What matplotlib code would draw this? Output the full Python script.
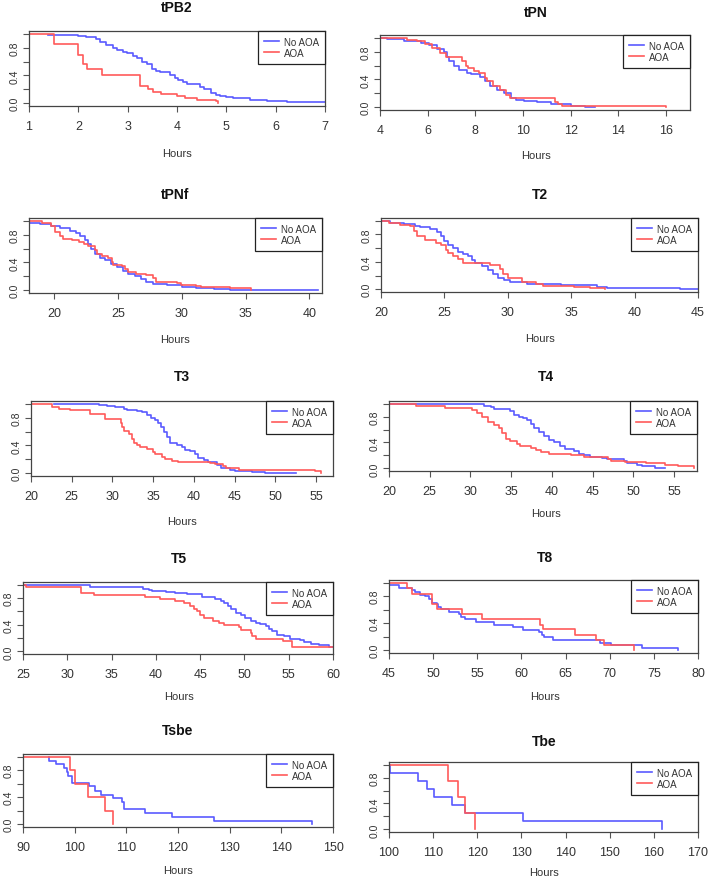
import matplotlib
matplotlib.use("Agg")
import matplotlib.pyplot as plt
from matplotlib.lines import Line2D

plt.rcParams['font.family'] = ['Liberation Sans', 'DejaVu Sans']

BLUE = '#5a5aff'
RED = '#ff5a5a'

# ---------------- data (time in hours, survival fraction) ----------------
titles = ["tPB2", "tPN", "tPNf", "T2", "T3", "T4", "T5", "T8", "Tsbe", "Tbe"]
series_labels = ["No AOA", "AOA"]

tpb2_no_t = [1.39, 2.0, 2.15, 2.24, 2.35, 2.44, 2.57, 2.7, 2.78, 2.9, 2.98, 3.1, 3.18, 3.3, 3.39, 3.49, 3.58, 3.66, 3.86, 3.95, 4.03, 4.12, 4.2, 4.47, 4.55, 4.68, 4.8, 4.87, 5.0, 5.14, 5.48, 5.82, 6.22, 7.0]
tpb2_no_s = [0.98, 0.975, 0.96, 0.95, 0.92, 0.88, 0.84, 0.80, 0.77, 0.74, 0.72, 0.68, 0.65, 0.60, 0.56, 0.49, 0.47, 0.45, 0.41, 0.37, 0.33, 0.30, 0.27, 0.23, 0.20, 0.15, 0.12, 0.10, 0.09, 0.08, 0.05, 0.03, 0.015, 0.015]
tpb2_aoa_t = [1.0, 1.51, 2.0, 2.1, 2.18, 2.47, 3.18, 3.25, 3.42, 3.52, 3.68, 3.99, 4.16, 4.4, 4.79, 4.84]
tpb2_aoa_s = [1.0, 0.855, 0.70, 0.57, 0.49, 0.41, 0.40, 0.25, 0.20, 0.16, 0.13, 0.10, 0.08, 0.05, 0.03, 0.0]

tpn_no_t = [4.0, 4.3, 5.0, 5.7, 6.05, 6.4, 6.68, 6.8, 6.9, 7.1, 7.3, 7.66, 7.8, 8.2, 8.4, 8.6, 8.9, 9.2, 9.5, 9.7, 10.05, 10.6, 11.15, 11.3, 12.0, 12.6, 13.0]
tpn_no_s = [0.99, 0.98, 0.96, 0.93, 0.89, 0.84, 0.80, 0.72, 0.66, 0.60, 0.53, 0.50, 0.48, 0.44, 0.38, 0.30, 0.25, 0.20, 0.14, 0.10, 0.09, 0.07, 0.05, 0.04, 0.02, 0.01, 0.0]
tpn_aoa_t = [4.0, 5.15, 5.55, 5.9, 6.2, 6.5, 6.75, 7.1, 7.45, 7.6, 7.7, 7.95, 8.15, 8.4, 8.5, 8.75, 9.05, 9.3, 9.45, 10.45, 11.35, 11.45, 11.65, 16.0]
tpn_aoa_s = [1.0, 0.97, 0.95, 0.91, 0.85, 0.78, 0.73, 0.72, 0.66, 0.60, 0.57, 0.52, 0.49, 0.42, 0.38, 0.31, 0.25, 0.18, 0.14, 0.13, 0.08, 0.05, 0.02, 0.0]

tpnf_no_t = [18.0, 18.9, 19.7, 20.4, 21.2, 21.7, 22.0, 22.4, 22.6, 22.9, 23.2, 23.6, 24.0, 24.4, 24.9, 25.4, 25.8, 26.3, 26.8, 27.2, 27.7, 28.8, 30.0, 31.1, 32.5, 33.8, 40.7]
tpnf_no_s = [0.97, 0.95, 0.93, 0.90, 0.86, 0.82, 0.78, 0.73, 0.67, 0.60, 0.52, 0.47, 0.43, 0.38, 0.33, 0.28, 0.24, 0.20, 0.16, 0.12, 0.09, 0.07, 0.05, 0.03, 0.02, 0.01, 0.01]
tpnf_aoa_t = [18.0, 19.0, 19.7, 20.05, 20.4, 20.7, 21.35, 21.9, 22.3, 22.6, 23.2, 23.35, 23.7, 24.2, 24.5, 24.6, 25.3, 25.5, 25.8, 26.4, 27.2, 27.7, 28.0, 29.6, 29.9, 31.1, 31.5, 33.8, 35.4]
tpnf_aoa_s = [1.0, 0.97, 0.93, 0.84, 0.78, 0.74, 0.72, 0.69, 0.66, 0.64, 0.58, 0.52, 0.50, 0.46, 0.41, 0.37, 0.35, 0.30, 0.26, 0.23, 0.22, 0.18, 0.12, 0.10, 0.08, 0.06, 0.05, 0.03, 0.01]

t2_no_t = [20.0, 20.7, 21.8, 22.7, 23.1, 23.9, 24.4, 24.7, 25.0, 25.3, 25.7, 26.05, 26.5, 26.9, 27.2, 27.4, 28.0, 28.4, 28.8, 29.2, 29.7, 30.2, 31.0, 31.5, 32.8, 34.2, 37.0, 37.8, 43.6, 45.0]
t2_no_s = [1.0, 0.97, 0.95, 0.93, 0.91, 0.88, 0.84, 0.78, 0.70, 0.65, 0.60, 0.54, 0.52, 0.48, 0.42, 0.38, 0.34, 0.28, 0.22, 0.17, 0.13, 0.11, 0.10, 0.08, 0.07, 0.06, 0.03, 0.02, 0.01, 0.01]
t2_aoa_t = [20.0, 20.6, 21.5, 22.3, 22.6, 22.8, 23.5, 24.3, 24.7, 25.1, 25.3, 25.7, 26.1, 26.5, 27.8, 28.6, 29.4, 29.6, 30.05, 31.1, 32.2, 32.8, 35.2, 36.5, 37.7]
t2_aoa_s = [1.0, 0.97, 0.94, 0.92, 0.85, 0.78, 0.72, 0.68, 0.64, 0.58, 0.53, 0.48, 0.44, 0.39, 0.38, 0.36, 0.30, 0.22, 0.16, 0.11, 0.08, 0.05, 0.04, 0.02, 0.0]

t3_no_t = [22.8, 28.3, 29.3, 30.3, 31.4, 31.8, 33.0, 33.6, 34.2, 34.8, 35.2, 35.6, 36.0, 36.4, 36.7, 37.1, 37.9, 38.5, 38.9, 39.5, 40.1, 40.5, 41.2, 41.8, 42.8, 43.4, 44.4, 45.1, 47.1, 48.7, 52.5]
t3_no_s = [1.0, 0.98, 0.97, 0.96, 0.93, 0.91, 0.90, 0.88, 0.84, 0.80, 0.76, 0.72, 0.67, 0.60, 0.52, 0.44, 0.40, 0.38, 0.34, 0.32, 0.28, 0.22, 0.19, 0.16, 0.12, 0.07, 0.05, 0.03, 0.02, 0.01, 0.01]
t3_aoa_t = [20.0, 22.6, 23.4, 24.8, 27.3, 29.1, 31.0, 31.2, 31.4, 32.0, 32.4, 32.6, 33.0, 33.4, 34.2, 35.0, 35.2, 36.1, 36.5, 37.3, 38.1, 42.0, 42.6, 43.6, 44.0, 45.5, 54.9, 55.6]
t3_aoa_s = [1.0, 0.96, 0.93, 0.91, 0.85, 0.78, 0.73, 0.66, 0.61, 0.56, 0.50, 0.44, 0.40, 0.38, 0.35, 0.30, 0.27, 0.24, 0.21, 0.18, 0.16, 0.15, 0.13, 0.10, 0.08, 0.05, 0.03, 0.0]

t4_no_t = [20.0, 31.6, 32.5, 32.9, 34.1, 34.9, 35.3, 35.9, 36.5, 36.9, 37.4, 37.8, 38.4, 39.0, 39.6, 40.2, 41.0, 41.6, 42.7, 43.3, 43.9, 44.7, 46.1, 46.7, 47.6, 48.8, 49.2, 50.4, 51.0, 51.6, 52.7, 53.9]
t4_no_s = [1.0, 0.97, 0.94, 0.92, 0.91, 0.88, 0.82, 0.80, 0.78, 0.74, 0.68, 0.62, 0.56, 0.50, 0.44, 0.40, 0.35, 0.30, 0.27, 0.23, 0.20, 0.17, 0.16, 0.15, 0.14, 0.12, 0.08, 0.06, 0.04, 0.03, 0.01, 0.0]
t4_aoa_t = [20.0, 23.3, 26.9, 30.2, 30.8, 31.4, 32.2, 32.9, 33.5, 33.9, 34.3, 34.9, 35.7, 36.1, 37.4, 38.0, 38.6, 39.6, 42.3, 43.9, 46.9, 47.3, 49.0, 51.6, 53.9, 55.5, 57.4]
t4_aoa_s = [1.0, 0.96, 0.93, 0.90, 0.86, 0.80, 0.72, 0.67, 0.62, 0.55, 0.46, 0.42, 0.38, 0.35, 0.31, 0.28, 0.25, 0.23, 0.20, 0.18, 0.14, 0.12, 0.10, 0.08, 0.06, 0.03, 0.0]

t5_no_t = [25.0, 32.6, 38.5, 39.2, 39.6, 41.1, 42.2, 43.5, 45.2, 46.7, 47.3, 47.7, 48.1, 48.5, 49.0, 49.6, 50.1, 50.7, 51.3, 51.8, 52.4, 52.8, 53.1, 53.7, 54.5, 55.2, 56.3, 56.7, 57.5, 58.4, 59.6, 60.0]
t5_no_s = [0.99, 0.96, 0.94, 0.92, 0.90, 0.89, 0.88, 0.86, 0.81, 0.79, 0.75, 0.72, 0.68, 0.64, 0.58, 0.55, 0.50, 0.46, 0.43, 0.41, 0.38, 0.34, 0.30, 0.25, 0.23, 0.19, 0.17, 0.14, 0.11, 0.09, 0.07, 0.07]
t5_aoa_t = [25.0, 25.3, 31.5, 33.0, 38.8, 40.5, 42.2, 43.2, 43.9, 44.3, 44.7, 45.0, 45.4, 46.4, 47.1, 47.7, 49.4, 49.6, 50.7, 50.9, 51.3, 54.3, 55.4, 60.0]
t5_aoa_s = [1.0, 0.96, 0.88, 0.85, 0.82, 0.78, 0.75, 0.72, 0.68, 0.64, 0.60, 0.55, 0.50, 0.46, 0.43, 0.40, 0.36, 0.32, 0.28, 0.23, 0.18, 0.15, 0.07, 0.07]

t8_no_t = [45.0, 46.1, 47.6, 48.0, 48.5, 49.1, 49.5, 49.9, 50.4, 50.6, 50.9, 51.8, 52.9, 53.1, 53.6, 54.8, 56.9, 59.1, 60.2, 62.0, 62.3, 62.6, 63.6, 68.9, 70.1, 73.7, 77.7]
t8_no_s = [0.97, 0.92, 0.89, 0.86, 0.82, 0.80, 0.76, 0.70, 0.68, 0.64, 0.61, 0.57, 0.54, 0.50, 0.46, 0.42, 0.38, 0.34, 0.30, 0.27, 0.23, 0.19, 0.15, 0.11, 0.08, 0.04, 0.0]
t8_aoa_t = [45.0, 47.0, 47.6, 49.9, 50.4, 53.3, 55.5, 62.1, 62.4, 66.1, 68.4, 69.3, 72.7]
t8_aoa_s = [1.0, 0.92, 0.84, 0.69, 0.61, 0.53, 0.46, 0.38, 0.31, 0.23, 0.15, 0.08, 0.0]

tsbe_no_t = [95.0, 95.1, 96.3, 97.9, 98.5, 98.8, 99.4, 102.7, 104.0, 105.0, 107.5, 109.2, 109.5, 113.7, 118.8, 126.9, 145.9]
tsbe_no_s = [1.0, 0.94, 0.89, 0.83, 0.78, 0.72, 0.61, 0.56, 0.50, 0.44, 0.39, 0.33, 0.22, 0.17, 0.11, 0.05, 0.0]
tsbe_aoa_t = [90.0, 99.0, 100.1, 102.5, 105.9, 107.5]
tsbe_aoa_s = [1.0, 0.8, 0.6, 0.4, 0.2, 0.0]

tbe_no_t = [100.0, 100.2, 106.6, 108.7, 110.2, 114.2, 117.2, 130.3, 161.8]
tbe_no_s = [1.0, 0.875, 0.75, 0.625, 0.5, 0.375, 0.25, 0.125, 0.0]
tbe_aoa_t = [100.0, 113.4, 115.7, 117.3, 119.4]
tbe_aoa_s = [1.0, 0.75, 0.5, 0.25, 0.0]

xticks_list = [
    [1, 2, 3, 4, 5, 6, 7],
    [4, 6, 8, 10, 12, 14, 16],
    [20, 25, 30, 35, 40],
    [20, 25, 30, 35, 40, 45],
    [20, 25, 30, 35, 40, 45, 50, 55],
    [20, 25, 30, 35, 40, 45, 50, 55],
    [25, 30, 35, 40, 45, 50, 55, 60],
    [45, 50, 55, 60, 65, 70, 75, 80],
    [90, 100, 110, 120, 130, 140, 150],
    [100, 110, 120, 130, 140, 150, 160, 170],
]
xlims = [(1, 7), (4, 17), (18, 41), (20, 45), (20, 57.1), (20, 57.8), (25, 60), (45, 80), (90, 150), (100, 170)]
ytick_vals = [0.0, 0.2, 0.4, 0.6, 0.8, 1.0]
ytick_labels = ["0.0", "", "0.4", "", "0.8", ""]

curves = [
    (tpb2_no_t, tpb2_no_s, tpb2_aoa_t, tpb2_aoa_s),
    (tpn_no_t, tpn_no_s, tpn_aoa_t, tpn_aoa_s),
    (tpnf_no_t, tpnf_no_s, tpnf_aoa_t, tpnf_aoa_s),
    (t2_no_t, t2_no_s, t2_aoa_t, t2_aoa_s),
    (t3_no_t, t3_no_s, t3_aoa_t, t3_aoa_s),
    (t4_no_t, t4_no_s, t4_aoa_t, t4_aoa_s),
    (t5_no_t, t5_no_s, t5_aoa_t, t5_aoa_s),
    (t8_no_t, t8_no_s, t8_aoa_t, t8_aoa_s),
    (tsbe_no_t, tsbe_no_s, tsbe_aoa_t, tsbe_aoa_s),
    (tbe_no_t, tbe_no_s, tbe_aoa_t, tbe_aoa_s),
]

# ---------------- layout (pixel boxes: x0, x1, ytop, ybottom) ----------------
W, H = 708, 878
boxes = [
    (29, 325, 32, 107), (380, 690, 36, 111),
    (29, 322, 219, 294), (381, 698, 219, 293),
    (31, 333, 402, 477), (389, 697, 402, 472),
    (23, 333, 583, 655), (389, 698, 581, 654),
    (23, 333, 755, 828), (389, 698, 763, 833),
]
title_pos = [(177, 8), (536, 13), (175, 195), (540, 195), (182, 377),
             (546, 377), (179, 559), (545, 558), (178, 731), (544, 742)]
xlabel_pos = [(177, 154), (536, 156), (175, 340), (540, 339), (182, 522),
              (546, 514), (179, 697), (545, 697), (178, 871), (544, 873)]

fig = plt.figure(figsize=(W / 100, H / 100), dpi=100)
fig.patch.set_facecolor('white')

TXT = '#333333'
for i in range(10):
    x0, x1, yt, yb = boxes[i]
    ax = fig.add_axes([x0 / W, 1 - yb / H, (x1 - x0) / W, (yb - yt) / H])
    nt, ns, at, as_ = curves[i]
    ax.step(nt, ns, where='post', color=BLUE, lw=1.2)
    ax.step(at, as_, where='post', color=RED, lw=1.2)
    ax.set_xlim(*xlims[i])
    ax.set_ylim(-0.04, 1.04)
    ax.set_xticks(xticks_list[i])
    ax.set_xticklabels([str(v) for v in xticks_list[i]], fontsize=9, color=TXT)
    ax.set_yticks(ytick_vals)
    ax.set_yticklabels(ytick_labels, fontsize=7.5, color=TXT, rotation=90, va='center')
    ax.tick_params(axis='x', length=4, width=0.8, color='#555555', pad=6)
    ax.tick_params(axis='y', length=4, width=0.8, color='#555555', pad=3)
    for sp in ax.spines.values():
        sp.set_color('#444444')
        sp.set_linewidth(0.9)
    handles = [Line2D([], [], color=BLUE, lw=1.2), Line2D([], [], color=RED, lw=1.2)]
    leg = ax.legend(handles, series_labels, loc='upper right', borderaxespad=0,
                    fontsize=7, fancybox=False, framealpha=1, edgecolor='#222222',
                    handlelength=1.6, handletextpad=0.5, borderpad=0.6,
                    labelspacing=0.1)
    leg.get_frame().set_linewidth(0.9)
    for t in leg.get_texts():
        t.set_color(TXT)
    tx, ty = title_pos[i]
    fig.text(tx / W, 1 - ty / H, titles[i], ha='center', va='center',
             fontsize=10, fontweight='bold', color='#111111')
    lx, ly = xlabel_pos[i]
    fig.text(lx / W, 1 - ly / H, "Hours", ha='center', va='center',
             fontsize=8, color=TXT)

fig.savefig('out.png', dpi=100, facecolor='white')
